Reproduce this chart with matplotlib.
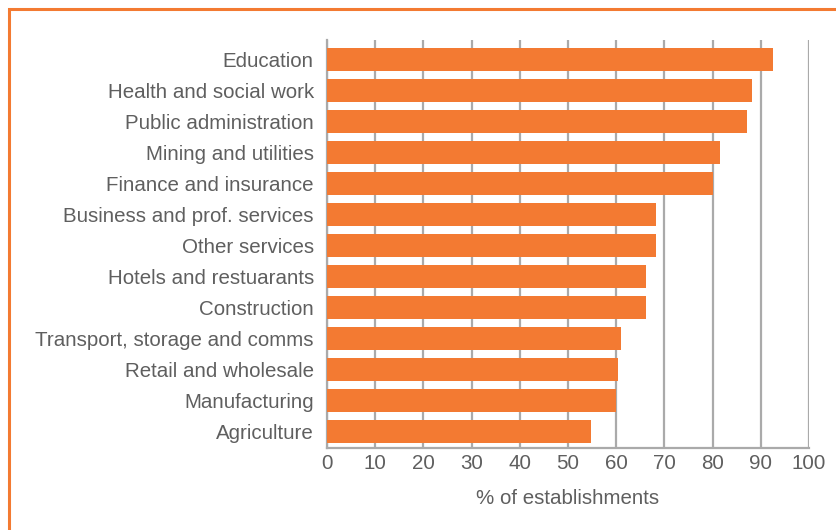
import matplotlib.pyplot as plt
from matplotlib.patches import Rectangle

# sectors, top to bottom
sectors = ['Education', 'Health and social work', 'Public administration',
           'Mining and utilities', 'Finance and insurance',
           'Business and prof. services', 'Other services',
           'Hotels and restuarants', 'Construction',
           'Transport, storage and comms', 'Retail and wholesale',
           'Manufacturing', 'Agriculture']
share = [92.5, 88.2, 87.1, 81.5, 80.1, 68.3, 68.3, 66.2, 66.2, 61.0, 60.4, 60.0, 54.8]
xticks = [0, 10, 20, 30, 40, 50, 60, 70, 80, 90, 100]

orange = '#F37A32'
grey = '#AAAAAA'
text_col = '#5F5F5F'

plt.rcParams['font.family'] = ['Liberation Sans', 'DejaVu Sans']
fs = 14.8

fig = plt.figure(figsize=(8.37, 5.30), dpi=100)
ax = fig.add_axes([327 / 837, 1 - 448 / 530, (809 - 327) / 837, (448 - 40) / 530])

ypos = list(range(len(sectors)))
ax.barh(ypos, share, height=0.74, color=orange, zorder=3)

ax.set_xlim(0, 100)
ax.set_ylim(12.54, -0.63)
ax.set_xticks(xticks)
ax.set_yticks(ypos)
ax.set_yticklabels(sectors)
ax.tick_params(axis='both', length=0, labelsize=fs, colors=text_col)
ax.tick_params(axis='y', pad=9.5)
ax.tick_params(axis='x', pad=4)
ax.xaxis.grid(True, color=grey, linewidth=1.6, zorder=0)
for s in ['top', 'right']:
    ax.spines[s].set_visible(False)
for s in ['left', 'bottom']:
    ax.spines[s].set_color(grey)
    ax.spines[s].set_linewidth(1.6)
ax.set_xlabel('% of establishments', fontsize=fs, color=text_col, labelpad=12)

# orange frame round the panel (runs off right and bottom edges)
fig.patches.append(Rectangle((9 / 837, -0.05), 1.0, 1 - 9 / 530 + 0.05,
                             transform=fig.transFigure, fill=False,
                             edgecolor=orange, linewidth=2.2))

fig.savefig('out.png', dpi=100)
